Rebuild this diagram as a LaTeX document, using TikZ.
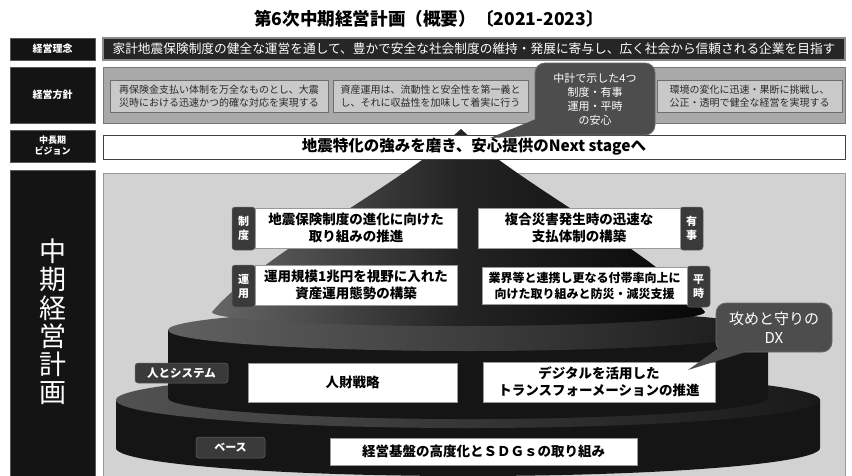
\documentclass[tikz,border=0pt]{standalone}
\usepackage{fontspec}
\setmainfont{Noto Sans CJK JP}
\usetikzlibrary{calc}
\newcommand{\myfs}[2]{\fontsize{#1}{#2}\selectfont}
\definecolor{lblk}{HTML}{141414}
\definecolor{lbldraw}{HTML}{5A5A5A}
\definecolor{rowdark}{HTML}{262626}
\definecolor{rowdarkdraw}{HTML}{8A8A8A}
\definecolor{polfill}{HTML}{A9A9A9}
\definecolor{poldraw}{HTML}{777777}
\definecolor{innerfill}{HTML}{C9C9C9}
\definecolor{innerdraw}{HTML}{6E6E6E}
\definecolor{innertext}{HTML}{2A2A2A}
\definecolor{panelfill}{HTML}{D2D2D2}
\definecolor{paneldraw}{HTML}{9A9A9A}
\definecolor{bubblefill}{HTML}{4D4D4D}
\definecolor{bubbledraw}{HTML}{6A6A6A}
\definecolor{tagfill}{HTML}{3A3A3A}
\definecolor{tierbody}{HTML}{151515}
\begin{document}
\begin{tikzpicture}[x=1pt,y=-1pt,
  lbl/.style={fill=lblk, draw=lbldraw, line width=0.6pt, text=white, inner sep=0pt, align=center},
  darkbar/.style={fill=rowdark, draw=rowdarkdraw, line width=1.4pt, text=white, inner sep=0pt},
  policybar/.style={fill=polfill, draw=poldraw, line width=1pt, inner sep=0pt},
  policy/.style={fill=innerfill, draw=innerdraw, line width=1pt, text=innertext, inner sep=0pt, align=center, font=\myfs{10}{13}},
  panel/.style={fill=panelfill, draw=paneldraw, line width=1pt, inner sep=0pt},
  vision/.style={fill=white, draw=black!75, line width=1pt, inner sep=0pt, font=\bfseries\myfs{15.5}{17}},
  bubble/.style={fill=bubblefill, draw=bubbledraw, line width=0.8pt, rounded corners=10pt, text=white, inner sep=0pt, align=center},
  tagbox/.style={fill=tagfill, draw=black!60, line width=0.5pt, rounded corners=3pt, text=white, inner sep=0pt, align=center, font=\bfseries\myfs{11}{14}},
  planbox/.style={fill=white, draw=black!40, line width=0.6pt, inner sep=0pt, align=center, font=\bfseries\myfs{13.5}{17}}
]
\useasboundingbox (0,0) rectangle (852,475);
\fill[white] (0,0) rectangle (852,475);

% title
\node[font=\bfseries\myfs{17.6}{20}] (title) at (429,19) {第6次中期経営計画（概要）〔2021-2023〕};

% row 1
\node[lbl, minimum width=85pt, minimum height=22pt, font=\bfseries\myfs{10}{12}] (l1) at (52.5,49) {経営理念};
\node[darkbar, minimum width=742pt, minimum height=22pt, font=\myfs{12.7}{14}] (r1) at (474,49) {家計地震保険制度の健全な運営を通して、豊かで安全な社会制度の維持・発展に寄与し、広く社会から信頼される企業を目指す};

% row 2
\node[lbl, minimum width=85pt, minimum height=56pt, font=\bfseries\myfs{10}{12}] (l2) at (52.5,95) {経営方針};
\node[policybar, minimum width=742pt, minimum height=56pt] (r2) at (474,95) {};
\node[policy, minimum width=218pt, minimum height=32pt] (p1) at (219,96) {再保険金支払い体制を万全なものとし、大震\\災時における迅速かつ的確な対応を実現する};
\node[policy, minimum width=195pt, minimum height=32pt] (p2) at (430.5,96) {資産運用は、流動性と安全性を第一義と\\し、それに収益性を加味して着実に行う};
\node[policy, minimum width=185pt, minimum height=32pt] (p3) at (749.5,96) {環境の変化に迅速・果断に挑戦し、\\公正・透明で健全な経営を実現する};

% row 3 label
\node[lbl, minimum width=85pt, minimum height=32pt, font=\bfseries\myfs{9}{11}] (l3) at (52.5,146) {中長期\\ビジョン};

% row 4
\node[lbl, minimum width=85pt, minimum height=312pt] (l4) at (52.5,326) {};
\node[text=white, align=center, font=\myfs{27}{28.2}] (l4t) at (52.5,322) {中\\期\\経\\営\\計\\画};
\node[panel, minimum width=742pt, minimum height=310pt] (r4) at (474,328) {};

% bottom tier
\fill[tierbody] (116,400) -- (116,448) arc[start angle=180, end angle=0, x radius=352, y radius=28] -- (820,400) -- cycle;
\shade[left color=black!68, right color=black!90] (468,400) ellipse [x radius=352, y radius=28];
% middle tier
\fill[tierbody] (168,330) -- (168,398) arc[start angle=180, end angle=0, x radius=300, y radius=21] -- (768,330) -- cycle;
\shade[left color=black!62, right color=black!90] (468,330) ellipse [x radius=300, y radius=21];
% cone
\shade[left color=black!60, right color=black!97, middle color=black!86]
  (461,129) .. controls (400,185) and (260,255) .. (212,312)
  arc[start angle=180, end angle=0, x radius=246.5, y radius=14]
  .. controls (660,255) and (520,185) .. (461,129) -- cycle;

% cone plans
\node[tagbox, minimum width=23pt, minimum height=43pt] (tA) at (243.5,228.5) {制\\度};
\node[tagbox, minimum width=23pt, minimum height=43pt] (tB) at (691.5,228.5) {有\\事};
\node[tagbox, minimum width=23pt, minimum height=42pt] (tC) at (243.5,286) {運\\用};
\node[tagbox, minimum width=23pt, minimum height=41pt] (tD) at (698.5,286.5) {平\\時};
\node[planbox, minimum width=202pt, minimum height=40pt] (pA) at (356,228) {地震保険制度の進化に向けた\\取り組みの推進};
\node[planbox, minimum width=202pt, minimum height=40pt] (pB) at (579,228) {複合災害発生時の迅速な\\支払体制の構築};
\node[planbox, minimum width=202pt, minimum height=40pt] (pC) at (356,285) {運用規模1兆円を視野に入れた\\資産運用態勢の構築};
\node[planbox, minimum width=205pt, minimum height=37pt, font=\bfseries\myfs{12}{16}] (pD) at (584.5,285.5) {業界等と連携し更なる付帯率向上に\\向けた取り組みと防災・減災支援};

% middle tier plans
\node[tagbox, minimum width=93pt, minimum height=20pt, font=\bfseries\myfs{11.5}{14}] (tE) at (181.5,373) {人とシステム};
\node[planbox, minimum width=209pt, minimum height=39pt] (pE) at (352.5,382.5) {人財戦略};
\node[planbox, minimum width=232pt, minimum height=40pt] (pF) at (599,382) {デジタルを活用した\\トランスフォーメーションの推進};

% base plans
\node[tagbox, minimum width=69pt, minimum height=21pt, font=\bfseries\myfs{11}{14}] (tG) at (230.5,447.5) {ベース};
\node[planbox, minimum width=307pt, minimum height=27pt] (pG) at (483.5,451.5) {経営基盤の高度化とＳＤＧｓの取り組み};

% vision
\node[vision, minimum width=742pt, minimum height=24pt] (r3) at (474,147) {地震特化の強みを磨き、安心提供のNext stageへ};

% bubble 1
\node[bubble, minimum width=120pt, minimum height=72pt, font=\myfs{11}{14}] (b1) at (595,99) {中計で示した4つ\\制度・有事\\運用・平時\\の安心};
\coordinate (tip1) at (490,138);
\fill[bubblefill] ($(b1.south west)+(0.4,-16)$) -- (tip1) -- ($(b1.south west)+(16,-0.4)$) -- cycle;

% bubble 2
\node[bubble, minimum width=116pt, minimum height=49pt, font=\myfs{15}{19}] (b2) at (774,327.5) {攻めと守りの\\DX};
\coordinate (tip2) at (688,370);
\fill[bubblefill] ($(b2.south west)+(8,-8)$) -- (tip2) -- ($(b2.south west)+(30,-0.4)$) -- cycle;
\end{tikzpicture}
\end{document}
